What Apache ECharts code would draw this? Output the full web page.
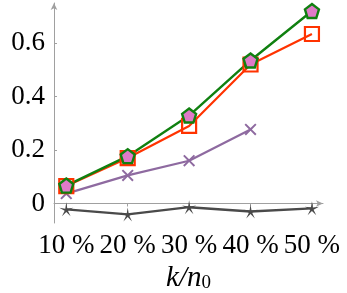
<!DOCTYPE html>
<html><head><meta charset="utf-8">
<script src="https://cdn.jsdelivr.net/npm/echarts@6/dist/echarts.min.js"></script>
<style>html,body{margin:0;padding:0;background:#fff}#c{width:347px;height:293px}</style>
</head><body><div id="c"></div>
<script>
var xValues = [10, 20, 30, 40, 50];
var xTicks = [10, 20, 30, 40, 50];
var yTicks = [0, 0.2, 0.4, 0.6];
var greenSeries = [0.067, 0.177, 0.329, 0.535, 0.72];
var redSeries = [0.065, 0.17, 0.29, 0.52, 0.634];
var purpleSeries = [0.037, 0.105, 0.16, 0.277, null];
var graySeries = [-0.022, -0.041, -0.014, -0.03, -0.018];

function pairs(vals){ var out=[]; for(var i=0;i<xValues.length;i++){ if(vals[i]!==null) out.push([xValues[i], vals[i]]); } return out; }

var FONT = 'Liberation Serif';
var pentagon = 'path://M0,-10 L9.51,-3.09 L5.88,8.09 L-5.88,8.09 L-9.51,-3.09 Z';
var star = 'path://M0,-10 L1.4,-1.9 L9.51,-3.09 L2.2,0.8 L5.88,8.09 L0,2.4 L-5.88,8.09 L-2.2,0.8 L-9.51,-3.09 L-1.4,-1.9 Z';
var cross = 'path://M-10,-7.7 L-7.7,-10 L0,-2.3 L7.7,-10 L10,-7.7 L2.3,0 L10,7.7 L7.7,10 L0,2.3 L-7.7,10 L-10,7.7 L-2.3,0 Z';

var chart = echarts.init(document.getElementById('c'));
chart.setOption({
  animation: false,
  grid: {left: 54, right: 24, top: 3, bottom: 70, containLabel: false, outerBoundsMode: 'none'},
  xAxis: {
    type: 'value', min: 8, max: 51.8,
    axisLine: {lineStyle: {color: '#a0a0a0', width: 1}, symbol: ['none', 'arrow'], symbolSize: [5, 7]},
    axisTick: {show: true, customValues: xTicks, length: 3, lineStyle: {color: '#a0a0a0'}},
    splitLine: {show: false},
    axisLabel: {customValues: xTicks, formatter: function(v){return v + ' %';}, color: '#000', fontFamily: FONT, fontSize: 27, margin: 9},
    name: '{i|k/n}{s|0}', nameLocation: 'middle', nameGap: 34,
    nameTextStyle: {rich: {
      i: {fontFamily: FONT, fontStyle: 'italic', fontSize: 29, color: '#000'},
      s: {fontFamily: FONT, fontSize: 19, color: '#000', padding: [10, 0, 0, 0]}
    }}
  },
  yAxis: {
    type: 'value', min: -0.073, max: 0.75,
    axisLine: {show: true, lineStyle: {color: '#a0a0a0', width: 1}, symbol: ['none', 'arrow'], symbolSize: [5, 7]},
    axisTick: {show: true, inside: true, customValues: yTicks, length: 3, lineStyle: {color: '#a0a0a0'}},
    splitLine: {show: false},
    axisLabel: {customValues: yTicks, formatter: function(v){return v === 0 ? '0' : v.toFixed(1);}, color: '#000', fontFamily: FONT, fontSize: 27, margin: 9, padding: [3, 0, 0, 0]}
  },
  series: [
    {type: 'line', data: pairs(graySeries), symbol: star, symbolSize: 14,
     lineStyle: {color: '#4a4a4a', width: 2.3}, itemStyle: {color: '#4a4a4a'}},
    {type: 'line', data: pairs(purpleSeries), symbol: cross, symbolSize: 12,
     lineStyle: {color: '#8e6aa0', width: 2.2}, itemStyle: {color: '#8e6aa0'}},
    {type: 'line', data: pairs(redSeries), symbol: 'rect', symbolSize: 14,
     lineStyle: {color: '#ff3300', width: 2.2}, itemStyle: {color: 'rgba(255,255,255,0)', borderColor: '#ff3300', borderWidth: 2.2}},
    {type: 'line', data: pairs(greenSeries), symbol: pentagon, symbolSize: 14,
     lineStyle: {color: '#108010', width: 2.4}, itemStyle: {color: '#e07ac8', borderColor: '#108010', borderWidth: 2.4}}
  ]
});
</script></body></html>
